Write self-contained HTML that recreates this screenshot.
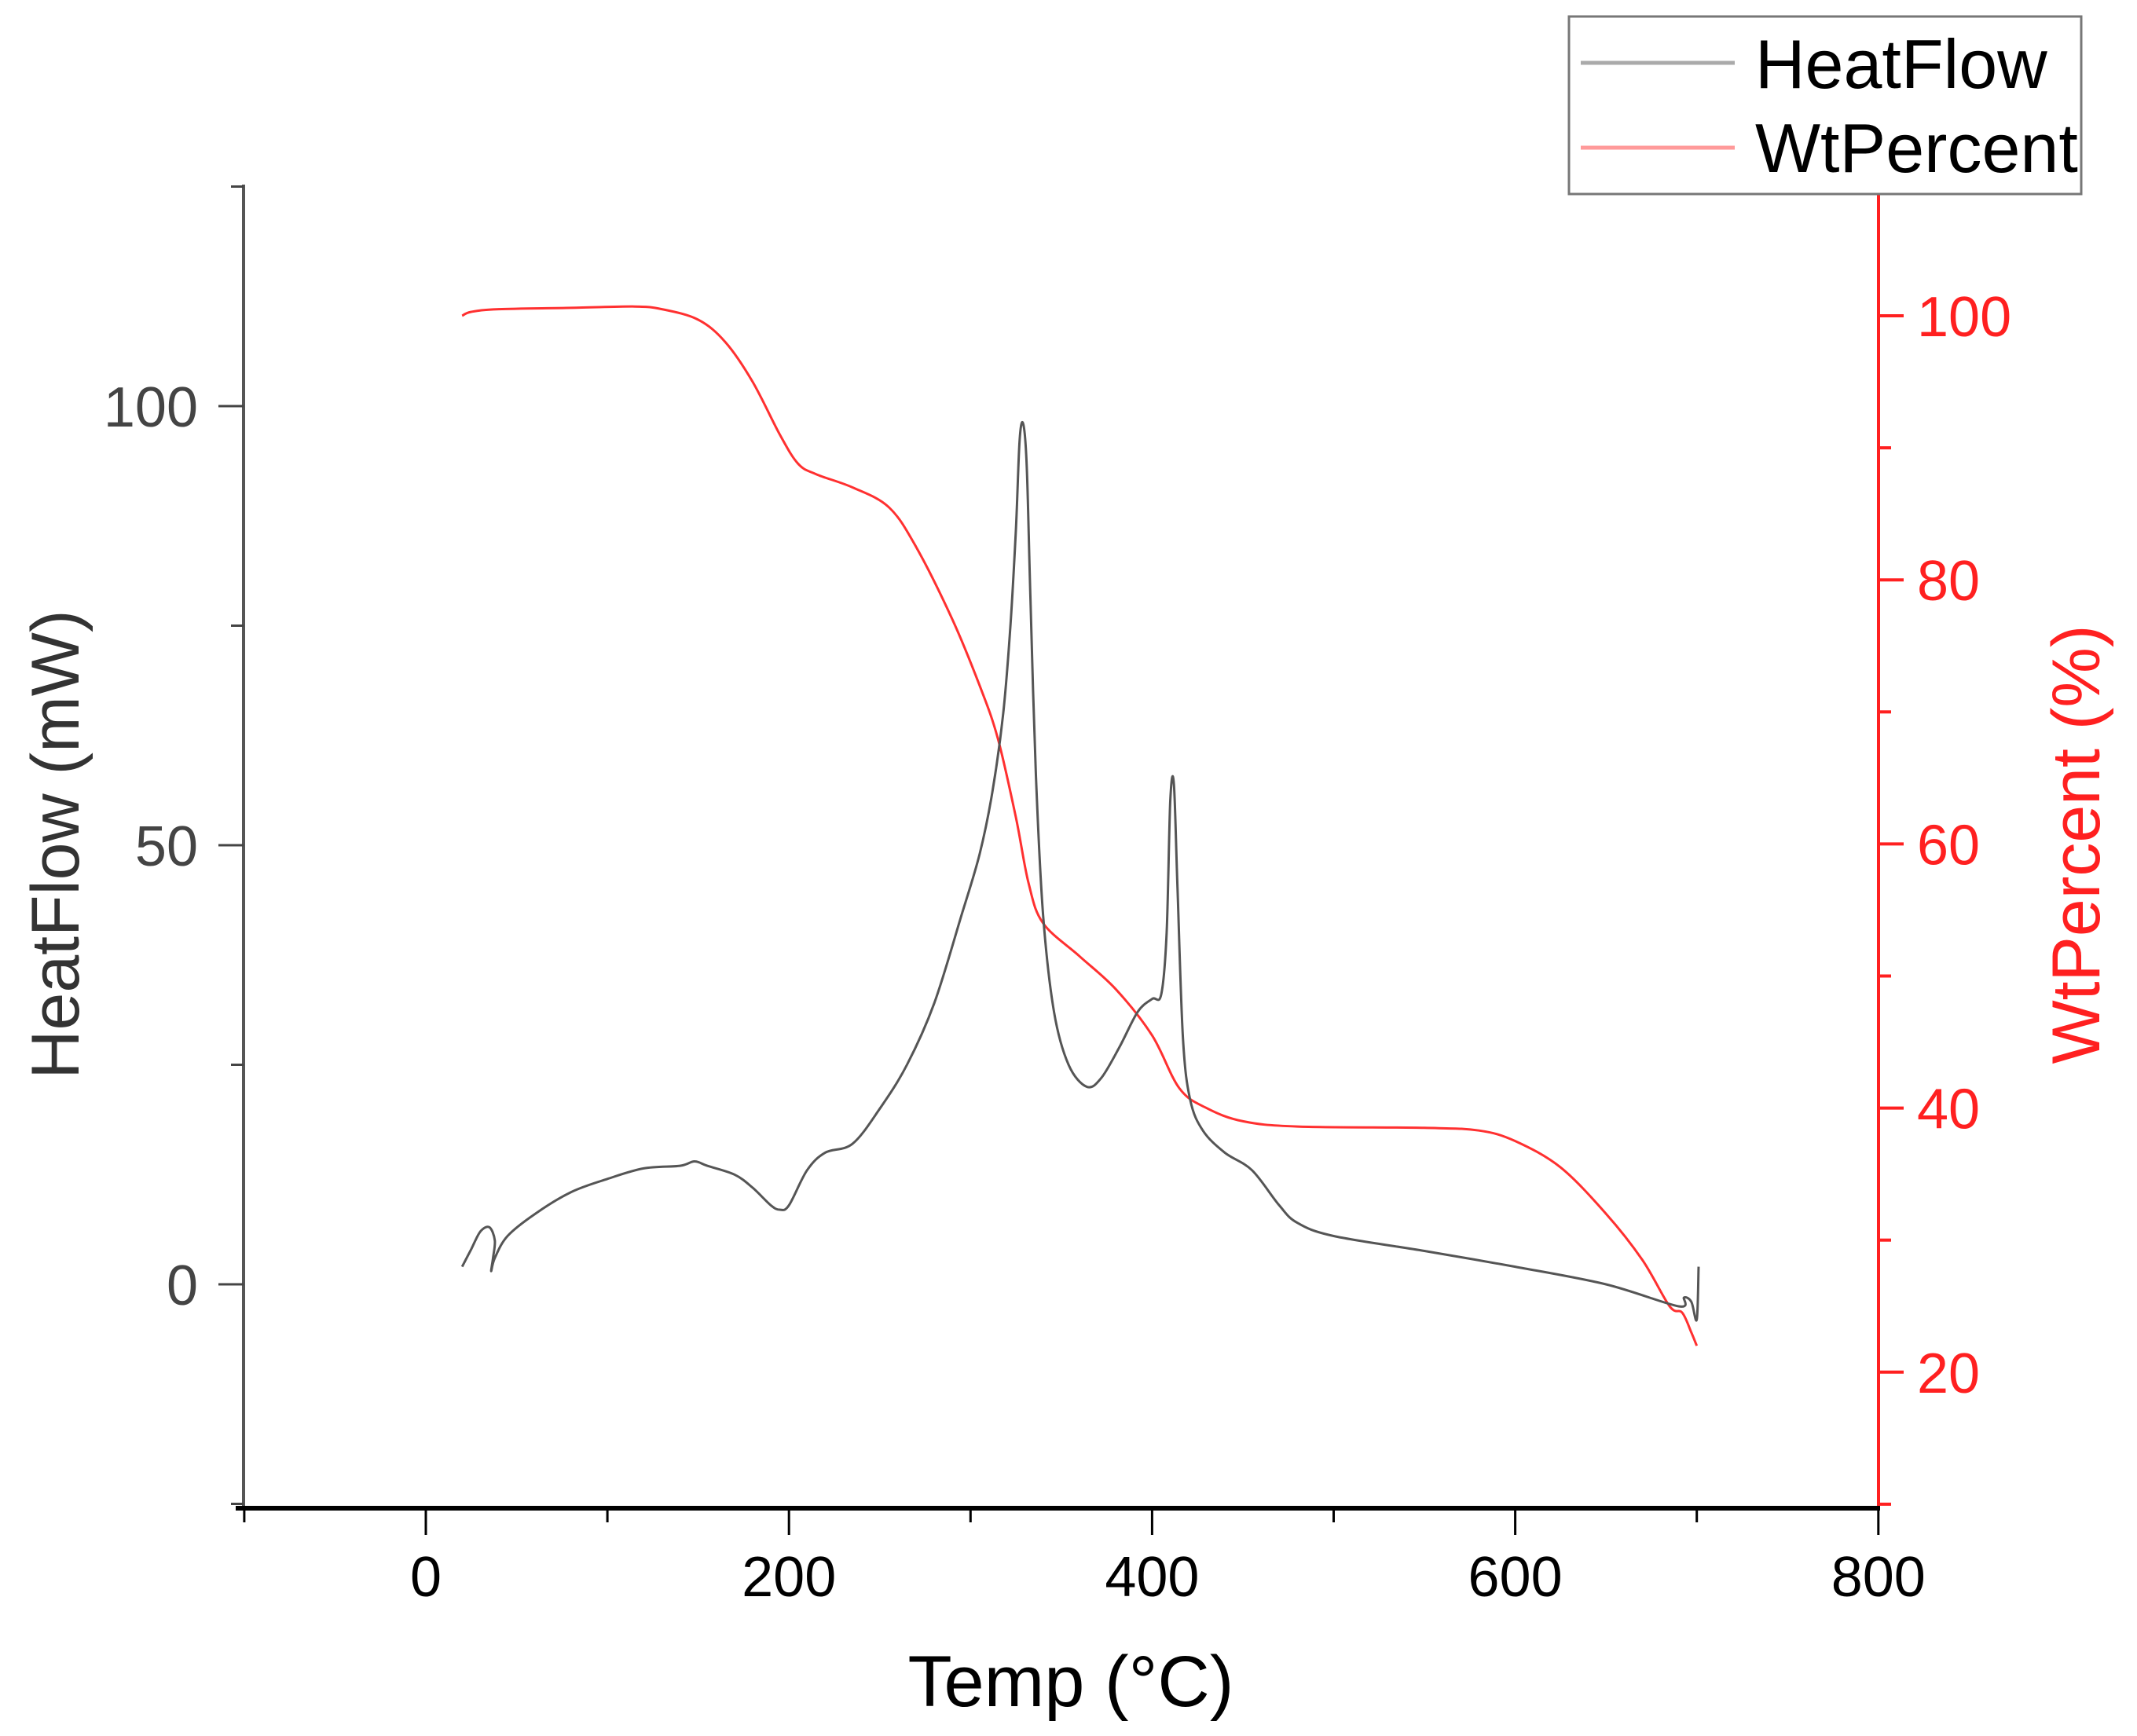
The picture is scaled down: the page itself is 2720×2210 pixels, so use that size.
<!DOCTYPE html>
<html><head><meta charset="utf-8"><style>
html,body{margin:0;padding:0;background:#fff;}
svg{display:block;font-family:"Liberation Sans",Arial,sans-serif;}
</style></head><body>
<svg id="chart" width="2720" height="2210" viewBox="0 0 2720 2210" xmlns="http://www.w3.org/2000/svg">
<g id="axes"></g>
<g id="series"></g>
<text x="1363" y="2172" font-size="92" text-anchor="middle" fill="#000">Temp (°C)</text>
<text transform="translate(100,1075) rotate(-90)" font-size="86" text-anchor="middle" fill="#333">HeatFlow (mW)</text>
<text transform="translate(2672,1075) rotate(-90)" font-size="86" text-anchor="middle" fill="#ff2020">WtPercent (%)</text>
<g>
<rect x="1997" y="21" width="652" height="226" fill="#fff" stroke="#777" stroke-width="3"/>
<line x1="2012" y1="80" x2="2208" y2="80" stroke="#aaa" stroke-width="5"/>
<text x="2234" y="112" font-size="88" fill="#000">HeatFlow</text>
<line x1="2012" y1="188" x2="2208" y2="188" stroke="#ff9a9a" stroke-width="5"/>
<text x="2234" y="219" font-size="88" fill="#000">WtPercent</text>
</g>
</svg>
<script>
const heatTemp = [20,25,30,35,38,37,36,38,45,60,80,100,120,140,148,155,170,180,190,195,200,210,220,235,250,265,280,295,305,312,318,322,325,327,329,331,333,336,340,346,354,364,372,382,392,400,405,408,410,412,414,417,421,428,440,455,470,480,500,550,600,650,690,693,697,700,701];
const heatVal = [2,4,6,6.5,5,3,1.5,3,5.5,8,10.5,12,13.2,13.5,14,13.5,12.5,11,9,8.5,9,13,15,16,20,25,32,42,49,56,65,75,86,96,98,93,78,58,42,31,25,22.5,23.5,27,31,32.5,33,40,55,57,45,28,21,17.5,15,13,9,7,5.5,3.8,2,0,-2.5,-1.5,-2,-4,2];
const wtTemp = [20,25,40,80,115,130,150,165,180,195,205,215,235,255,270,290,305,315,325,332,340,360,380,400,415,430,450,480,550,580,600,625,650,670,685,692,697,700];
const wtVal = [100,100.3,100.5,100.6,100.7,100.5,99.7,98,95,91,88.8,88,87,85.5,82.5,77,72,68,62,57,54,51.5,49,45.5,41.5,40,39,38.6,38.5,38.3,37.5,35.5,32,28.5,25,24.5,23,22];
const xTicks = [0,200,400,600,800];
const xMinor = [-100,100,300,500,700];
const leftTicks = [0,50,100];
const leftMinor = [-25,25,75,125];
const rightTicks = [20,40,60,80,100];
const rightMinor = [10,30,50,70,90,110];

const X0=310,X1=2391,YT=235,YB=1920;
const xs=v=>542+(v-0)*(462.2/200);
const yl=v=>1635-(v-0)*(1118/100);
const yr=v=>402+(100-v)*16.81;
const NS='http://www.w3.org/2000/svg';
const axes=document.getElementById('axes'), series=document.getElementById('series');
function mk(tag,attrs,parent){const e=document.createElementNS(NS,tag);for(const k in attrs)e.setAttribute(k,attrs[k]);parent.appendChild(e);return e;}

let e;
e=mk('line',{x1:X0,y1:YT,x2:X0,y2:YB,stroke:'#555','stroke-width':4},axes);


e=mk('line',{x1:X1,y1:YT,x2:X1,y2:YB,stroke:'#ff2020','stroke-width':4},axes);


e=mk('line',{x1:X0-10,y1:YB,x2:X1+2,y2:YB,stroke:'#000','stroke-width':6},axes);



xTicks.forEach(v=>{
  const x=xs(v);
  e=mk('line',{x1:x,y1:YB,x2:x,y2:YB+34,stroke:'#000','stroke-width':3},axes);
  
  
  e=mk('text',{x:x,y:2032,'font-size':72,'text-anchor':'middle',fill:'#000'},axes);
  e.textContent=v;
  
  
});
xMinor.forEach(v=>{
  const x=xs(v);
  e=mk('line',{x1:x,y1:YB,x2:x,y2:YB+18,stroke:'#000','stroke-width':3},axes);
  
  
});
leftTicks.forEach(v=>{
  const y=yl(v);
  e=mk('line',{x1:X0-32,y1:y,x2:X0,y2:y,stroke:'#444','stroke-width':3},axes);
  
  
  e=mk('text',{x:252,y:y+26,'font-size':72,'text-anchor':'end',fill:'#444'},axes);
  e.textContent=v;
  
  
});
leftMinor.forEach(v=>{
  const y=yl(v);
  e=mk('line',{x1:X0-16,y1:y,x2:X0,y2:y,stroke:'#444','stroke-width':3},axes);
  
  
});
rightTicks.forEach(v=>{
  const y=yr(v);
  e=mk('line',{x1:X1,y1:y,x2:X1+32,y2:y,stroke:'#ff2020','stroke-width':4},axes);
  
  
  e=mk('text',{x:2440,y:y+26,'font-size':72,fill:'#ff2020'},axes);
  e.textContent=v;
  
  
});
rightMinor.forEach(v=>{
  const y=yr(v);
  e=mk('line',{x1:X1,y1:y,x2:X1+16,y2:y,stroke:'#ff2020','stroke-width':4},axes);
  
  
});

function smoothPath(xa,ya,fy){
  const p=xa.map((t,i)=>[xs(t),fy(ya[i])]);
  let d='M'+p[0][0].toFixed(1)+','+p[0][1].toFixed(1);
  const k=0.5/3;
  for(let i=0;i<p.length-1;i++){
    const p0=p[Math.max(0,i-1)],p1=p[i],p2=p[i+1],p3=p[Math.min(p.length-1,i+2)];
    const c1x=p1[0]+(p2[0]-p0[0])*k, c1y=p1[1]+(p2[1]-p0[1])*k;
    const c2x=p2[0]-(p3[0]-p1[0])*k, c2y=p2[1]-(p3[1]-p1[1])*k;
    d+=' C'+c1x.toFixed(1)+','+c1y.toFixed(1)+' '+c2x.toFixed(1)+','+c2y.toFixed(1)+' '+p2[0].toFixed(1)+','+p2[1].toFixed(1);
  }
  return d;
}
e=mk('path',{d:smoothPath(wtTemp,wtVal,yr),fill:'none',stroke:'#ff3030','stroke-width':3,'stroke-linejoin':'round'},series);


e=mk('path',{d:smoothPath(heatTemp,heatVal,yl),fill:'none',stroke:'#555','stroke-width':3,'stroke-linejoin':'round'},series);


</script>
</body></html>
